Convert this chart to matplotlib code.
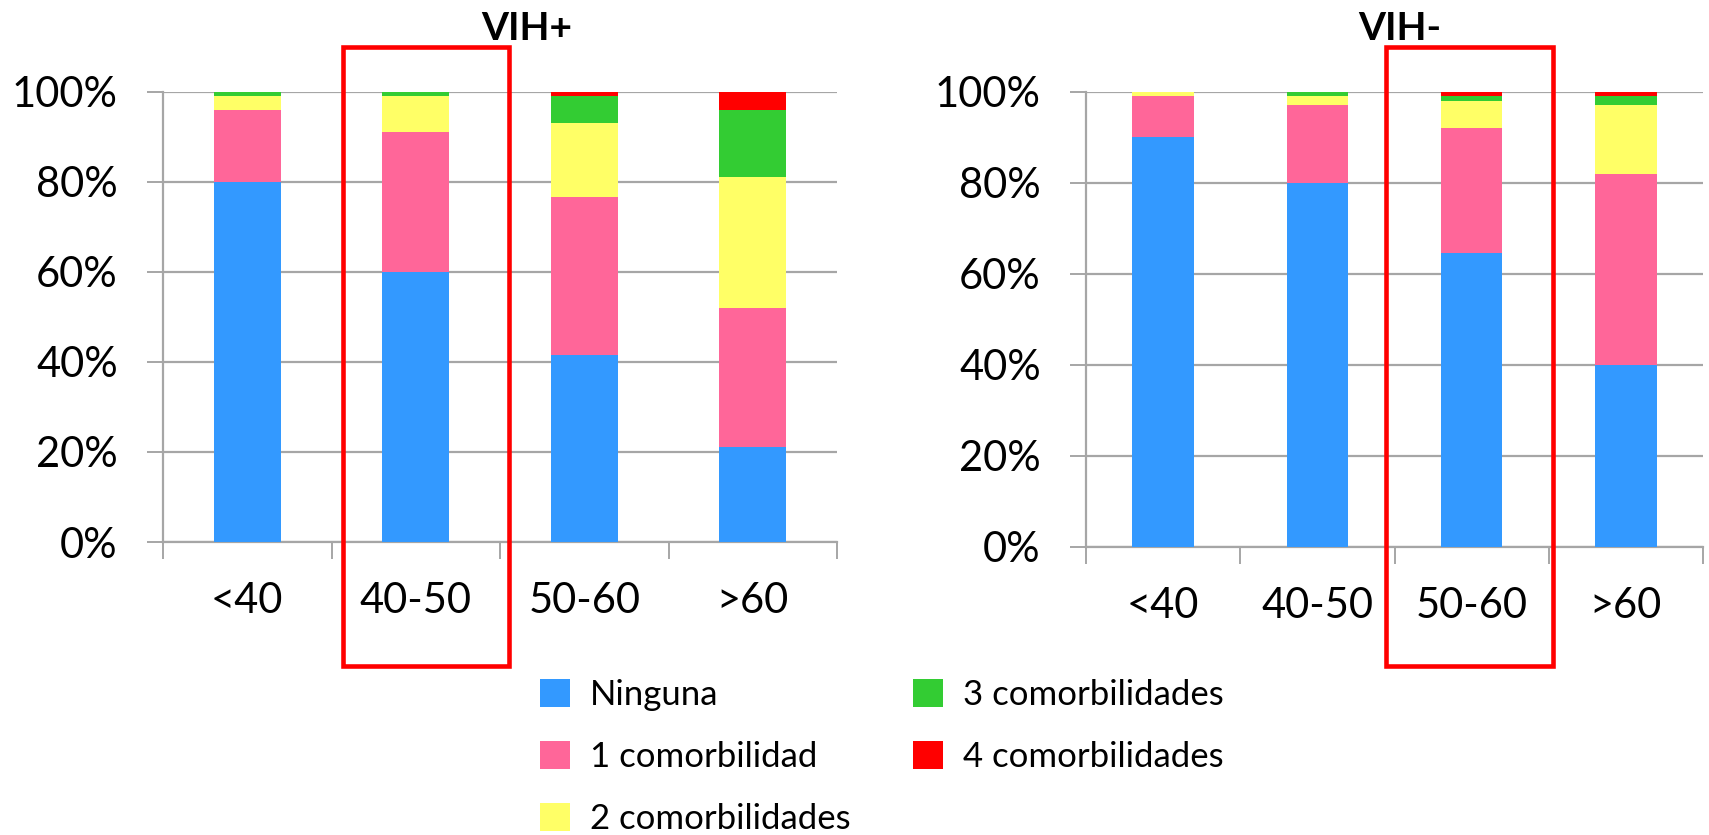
import matplotlib
matplotlib.use("Agg")
import matplotlib.pyplot as plt
from matplotlib.patches import Rectangle
import numpy as np

plt.rcParams['font.family'] = ['Lato', 'DejaVu Sans']

W, H = 1709, 835
DPI = 100

categories = ['<40', '40-50', '50-60', '>60']
series_names = ['Ninguna', '1 comorbilidad', '2 comorbilidades',
                '3 comorbilidades', '4 comorbilidades']
colors = ['#3399FF', '#FF6699', '#FFFF66', '#33CC33', '#FF0000']

# Share of patients (%) per age group, by number of comorbidities
vih_pos_ninguna = [80, 60, 41.5, 21]
vih_pos_1 = [16, 31, 35, 31]
vih_pos_2 = [3, 8, 16.5, 29]
vih_pos_3 = [1, 1, 6, 15]
vih_pos_4 = [0, 0, 1, 4]

vih_neg_ninguna = [90, 80, 64.5, 40]
vih_neg_1 = [9, 17, 27.5, 42]
vih_neg_2 = [1, 2, 6, 15]
vih_neg_3 = [0, 1, 1, 2]
vih_neg_4 = [0, 0, 1, 1]

y_ticks = [0, 20, 40, 60, 80, 100]
y_tick_labels = ['0%', '20%', '40%', '60%', '80%', '100%']

GRID = '#A6A6A6'


def fig_rect(x0, y0, x1, y1):
    """Pixel box (top-left origin) -> figure-fraction [left, bottom, w, h]."""
    return [x0 / W, 1 - y1 / H, (x1 - x0) / W, (y1 - y0) / H]


fig = plt.figure(figsize=(W / DPI, H / DPI), dpi=DPI)

ax_pos = fig.add_axes(fig_rect(163, 91.6, 837, 542))
ax_neg = fig.add_axes(fig_rect(1086, 91.6, 1703, 547))


def draw_panel(ax, series, title, title_x):
    x = np.arange(len(categories))
    bottom = np.zeros(len(categories))
    handles = []
    for vals, col, name in zip(series, colors, series_names):
        vals = np.asarray(vals, dtype=float)
        h = ax.bar(x, vals, width=0.4, bottom=bottom, color=col,
                   edgecolor='none', label=name, zorder=3)
        handles.append(h)
        bottom += vals
    ax.set_xlim(-0.5, len(categories) - 0.5)
    ax.set_ylim(0, 100)
    ax.set_yticks(y_ticks)
    ax.set_yticklabels(y_tick_labels)
    ax.yaxis.grid(True, color=GRID, lw=1.6, zorder=0)
    ax.set_axisbelow(True)
    # category boundaries as ticks, labels at the centres
    ax.set_xticks(np.arange(len(categories) + 1) - 0.5)
    ax.set_xticklabels([])
    ax.set_xticks(x, minor=True)
    ax.set_xticklabels(categories, minor=True)
    ax.tick_params(axis='x', which='major', length=12, width=1.4,
                   color=GRID, direction='out')
    ax.tick_params(axis='x', which='minor', length=0, pad=29,
                   labelsize=30)
    ax.tick_params(axis='y', length=11.5, width=1.4, color=GRID,
                   pad=21, labelsize=30)
    for s in ('top', 'right'):
        ax.spines[s].set_visible(False)
    for s in ('left', 'bottom'):
        ax.spines[s].set_color(GRID)
        ax.spines[s].set_linewidth(1.6)
    fig.text(title_x / W, 1 - 29 / H, title, ha='center', va='center',
             fontsize=28, fontweight='bold')
    return handles


handles = draw_panel(ax_pos, [vih_pos_ninguna, vih_pos_1, vih_pos_2,
                              vih_pos_3, vih_pos_4], 'VIH+', 527)
draw_panel(ax_neg, [vih_neg_ninguna, vih_neg_1, vih_neg_2,
                    vih_neg_3, vih_neg_4], 'VIH-', 1400)

# Highlight boxes around the compared age groups
for x0, x1 in [(343, 509), (1386, 1553)]:
    r = fig_rect(x0, 47, x1, 666)
    fig.patches.append(Rectangle((r[0], r[1]), r[2], r[3],
                                 transform=fig.transFigure, fill=False,
                                 edgecolor='#FF0000', lw=3.3, zorder=10))

leg_kw = dict(loc='upper left', frameon=False, fontsize=25,
              handlelength=0.87, handleheight=0.87, handletextpad=0.56,
              labelspacing=0.86, borderpad=0, borderaxespad=0)
fig.legend(handles[:3], series_names[:3],
           bbox_to_anchor=(540 / W, 1 - 679 / H), **leg_kw)
fig.legend(handles[3:], series_names[3:],
           bbox_to_anchor=(913 / W, 1 - 679 / H), **leg_kw)

fig.savefig('out.png', dpi=DPI)
